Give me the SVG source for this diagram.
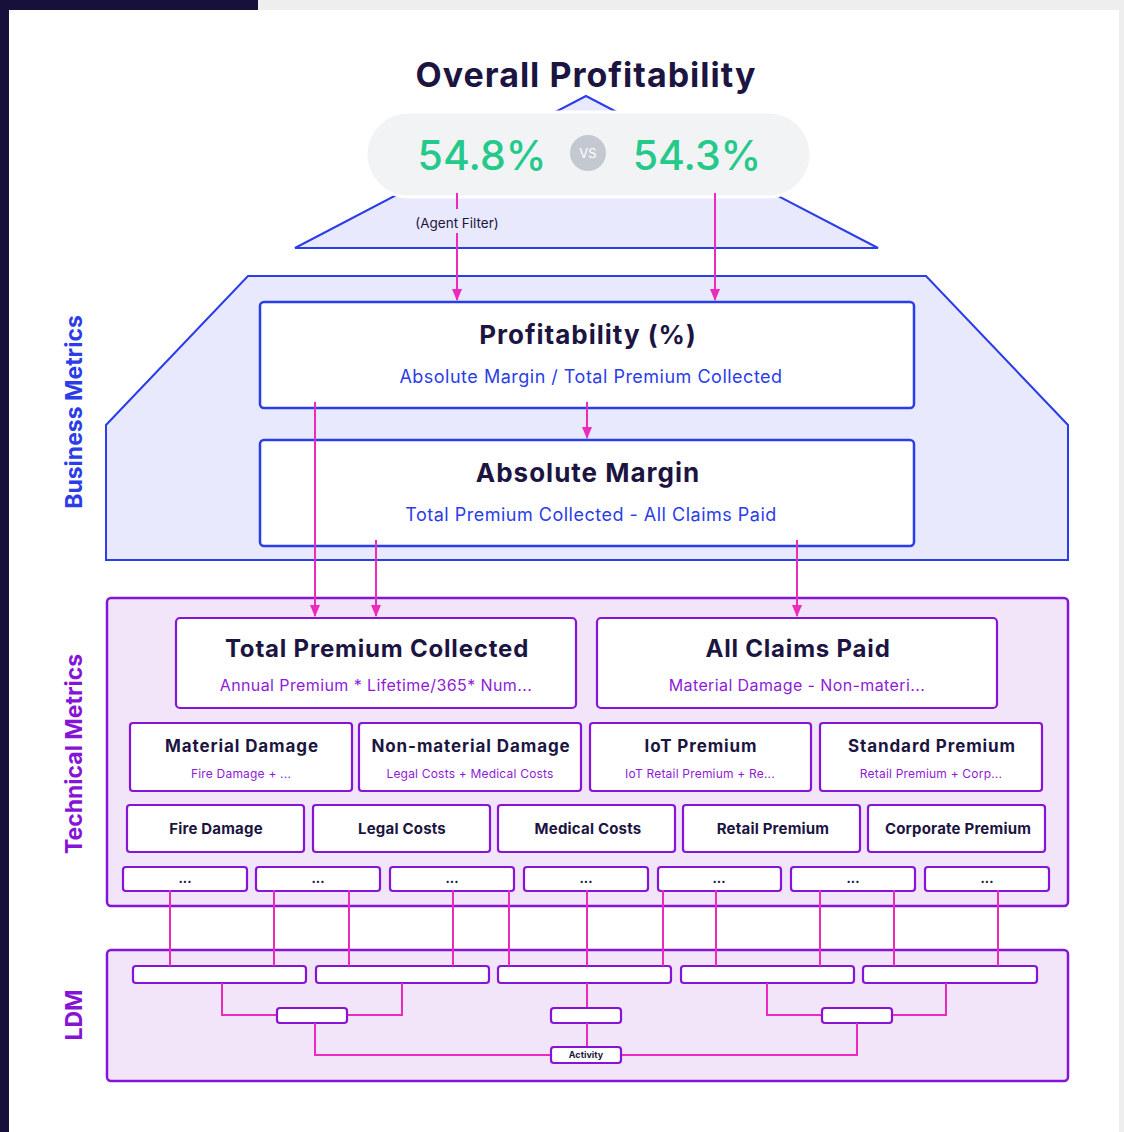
<svg xmlns="http://www.w3.org/2000/svg" width="1124" height="1132" viewBox="0 0 1124 1132">
<defs>
<marker id="arr" viewBox="0 0 12 10" refX="11" refY="5" markerWidth="12" markerHeight="10" markerUnits="userSpaceOnUse" orient="auto">
<path d="M0,0 L12,5 L0,10 z" fill="#ec2bbd"/>
</marker>
<style>
text{font-family:"Inter","Open Sans","Liberation Sans",sans-serif;}
.dark{fill:#1c1541;font-weight:700;text-anchor:middle;}
.bsub{fill:#2b3de8;text-anchor:middle;font-size:18px;letter-spacing:0.5px;}
.psub{fill:#8e1bd6;text-anchor:middle;}
.bbox{fill:#fff;stroke:#2b3de8;stroke-width:2.5;}
.pbox{fill:#fff;stroke:#8614d6;stroke-width:2.2;}
.zone-b{fill:#e8e9fc;stroke:#2b3de8;stroke-width:2;}
.zone-p{fill:#f3e5f9;stroke:#8614d6;stroke-width:2.5;}
.wire{fill:none;stroke:#ec2bbd;stroke-width:2;}
.side{font-weight:700;font-size:23px;text-anchor:middle;}
.big{font-size:26px;letter-spacing:1px;}
.mid{font-size:24px;letter-spacing:0.8px;}
.sm{font-size:17px;letter-spacing:0.9px;}
.xs{font-size:15px;letter-spacing:0.2px;}
</style>
</defs>

<!-- backdrop -->
<rect x="0" y="0" width="1124" height="1132" fill="#eeeeee"/>
<rect x="0" y="0" width="258" height="10" fill="#16103a"/>
<rect x="0" y="0" width="9" height="1132" fill="#16103a"/>
<rect x="9" y="10" width="1110" height="1122" fill="#ffffff"/>

<!-- side labels -->
<text class="side" transform="translate(82,412) rotate(-90)" fill="#2b3de8">Business Metrics</text>
<text class="side" transform="translate(82,754) rotate(-90)" fill="#8614d6">Technical Metrics</text>
<text class="side" transform="translate(82,1015) rotate(-90)" fill="#8614d6">LDM</text>

<!-- zones -->
<polygon class="zone-b" points="586,96 878,248 295,248"/>
<polygon class="zone-b" points="248,276 926,276 1068,425 1068,560 106,560 106,425"/>
<rect class="zone-p" x="107" y="598" width="961" height="308" rx="4"/>
<rect class="zone-p" x="107" y="950" width="961" height="131" rx="4"/>

<!-- title -->
<g id="title">
<text class="dark" x="586" y="87" font-size="34" letter-spacing="1">Overall Profitability</text>
</g>

<!-- comparison pill -->
<g id="compare">
<rect x="366" y="112" width="445" height="85" rx="42.5" fill="#f2f3f5" stroke="#ffffff" stroke-width="3"/>
<text x="482" y="170" font-size="41" font-weight="500" fill="#25c98a" text-anchor="middle">54.8%</text>
<text x="697" y="170" font-size="41" font-weight="500" fill="#25c98a" text-anchor="middle">54.3%</text>
<circle cx="588" cy="153" r="18" fill="#c4c9d1"/>
<text x="588" y="158" font-size="13" fill="#ffffff" text-anchor="middle">VS</text>
</g>
<text x="457" y="228" font-size="13.5" fill="#1c1541" text-anchor="middle">(Agent Filter)</text>

<!-- business metrics nodes -->
<g id="profitability">
<rect class="bbox" x="260" y="302" width="654" height="106" rx="4"/>
<text class="dark big" x="588" y="344">Profitability (%)</text>
<text class="bsub" x="591" y="383">Absolute Margin / Total Premium Collected</text>
</g>
<g id="absolute-margin">
<rect class="bbox" x="260" y="440" width="654" height="106" rx="4"/>
<text class="dark big" x="588" y="482">Absolute Margin</text>
<text class="bsub" x="591" y="521">Total Premium Collected - All Claims Paid</text>
</g>

<!-- technical metrics nodes -->
<g id="total-premium">
<rect class="pbox" x="176" y="618" width="400" height="90" rx="4"/>
<text class="dark mid" x="377" y="657">Total Premium Collected</text>
<text class="psub" x="376" y="691" font-size="16" letter-spacing="0.4">Annual Premium * Lifetime/365* Num...</text>
</g>
<g id="all-claims">
<rect class="pbox" x="597" y="618" width="400" height="90" rx="4"/>
<text class="dark mid" x="798" y="657">All Claims Paid</text>
<text class="psub" x="797" y="691" font-size="16" letter-spacing="0.4">Material Damage - Non-materi...</text>
</g>

<g id="material-damage">
<rect class="pbox" x="130" y="723" width="222" height="68" rx="3"/>
<text class="dark sm" x="242" y="752">Material Damage</text>
<text class="psub" x="241" y="778" font-size="12" letter-spacing="0.2">Fire Damage + ...</text>
</g>
<g id="non-material-damage">
<rect class="pbox" x="359" y="723" width="222" height="68" rx="3"/>
<text class="dark sm" x="471" y="752">Non-material Damage</text>
<text class="psub" x="470" y="778" font-size="12" letter-spacing="0.2">Legal Costs + Medical Costs</text>
</g>
<g id="iot-premium">
<rect class="pbox" x="590" y="723" width="221" height="68" rx="3"/>
<text class="dark sm" x="701" y="752">IoT Premium</text>
<text class="psub" x="700" y="778" font-size="12" letter-spacing="0.2">IoT Retail Premium + Re...</text>
</g>
<g id="standard-premium">
<rect class="pbox" x="820" y="723" width="222" height="68" rx="3"/>
<text class="dark sm" x="932" y="752">Standard Premium</text>
<text class="psub" x="931" y="778" font-size="12" letter-spacing="0.2">Retail Premium + Corp...</text>
</g>

<g id="fire-damage">
<rect class="pbox" x="127" y="805" width="177" height="47" rx="3"/>
<text class="dark xs" x="216" y="834">Fire Damage</text>
</g>
<g id="legal-costs">
<rect class="pbox" x="313" y="805" width="177" height="47" rx="3"/>
<text class="dark xs" x="402" y="834">Legal Costs</text>
</g>
<g id="medical-costs">
<rect class="pbox" x="498" y="805" width="177" height="47" rx="3"/>
<text class="dark xs" x="588" y="834">Medical Costs</text>
</g>
<g id="retail-premium">
<rect class="pbox" x="683" y="805" width="177" height="47" rx="3"/>
<text class="dark xs" x="773" y="834">Retail Premium</text>
</g>
<g id="corporate-premium">
<rect class="pbox" x="868" y="805" width="177" height="47" rx="3"/>
<text class="dark xs" x="958" y="834">Corporate Premium</text>
</g>

<g id="more-1"><rect class="pbox" x="123" y="867" width="124" height="24" rx="3"/><text class="dark" x="185" y="883" font-size="13">...</text></g>
<g id="more-2"><rect class="pbox" x="256" y="867" width="124" height="24" rx="3"/><text class="dark" x="318" y="883" font-size="13">...</text></g>
<g id="more-3"><rect class="pbox" x="390" y="867" width="124" height="24" rx="3"/><text class="dark" x="452" y="883" font-size="13">...</text></g>
<g id="more-4"><rect class="pbox" x="524" y="867" width="124" height="24" rx="3"/><text class="dark" x="586" y="883" font-size="13">...</text></g>
<g id="more-5"><rect class="pbox" x="658" y="867" width="123" height="24" rx="3"/><text class="dark" x="719" y="883" font-size="13">...</text></g>
<g id="more-6"><rect class="pbox" x="791" y="867" width="124" height="24" rx="3"/><text class="dark" x="853" y="883" font-size="13">...</text></g>
<g id="more-7"><rect class="pbox" x="925" y="867" width="124" height="24" rx="3"/><text class="dark" x="987" y="883" font-size="13">...</text></g>

<!-- LDM nodes -->
<g id="ldm-1"><rect class="pbox" x="133" y="966" width="173" height="17" rx="3"/></g>
<g id="ldm-2"><rect class="pbox" x="316" y="966" width="173" height="17" rx="3"/></g>
<g id="ldm-3"><rect class="pbox" x="498" y="966" width="173" height="17" rx="3"/></g>
<g id="ldm-4"><rect class="pbox" x="681" y="966" width="173" height="17" rx="3"/></g>
<g id="ldm-5"><rect class="pbox" x="863" y="966" width="174" height="17" rx="3"/></g>
<g id="ldm-6"><rect class="pbox" x="277" y="1008" width="70" height="15" rx="3"/></g>
<g id="ldm-7"><rect class="pbox" x="551" y="1008" width="70" height="15" rx="3"/></g>
<g id="ldm-8"><rect class="pbox" x="822" y="1008" width="70" height="15" rx="3"/></g>
<g id="activity"><rect class="pbox" x="551" y="1047" width="70" height="16" rx="3"/><text class="dark" x="586" y="1058" font-size="9">Activity</text></g>

<!-- connectors (drawn over the nodes, as in the reference) -->
<g id="connectors">
<line class="wire" x1="457" y1="193" x2="457" y2="209"/>
<line class="wire" x1="457" y1="233" x2="457" y2="300" marker-end="url(#arr)"/>
<line class="wire" x1="715" y1="193" x2="715" y2="300" marker-end="url(#arr)"/>
<line class="wire" x1="587" y1="402" x2="587" y2="438" marker-end="url(#arr)"/>
<line class="wire" x1="315" y1="402" x2="315" y2="616" marker-end="url(#arr)"/>
<line class="wire" x1="376" y1="540" x2="376" y2="616" marker-end="url(#arr)"/>
<line class="wire" x1="797" y1="540" x2="797" y2="616" marker-end="url(#arr)"/>
<path class="wire" d="M170,890V966 M274,890V966 M349,890V966 M453,890V966 M509,890V966 M587,890V966 M663,890V966 M716,890V966 M820,890V966 M894,890V966 M998,890V966"/>
<path class="wire" d="M222,983V1015H276 M402,983V1015H348 M587,983V1007 M767,983V1015H821 M946,983V1015H893 M587,1023V1046 M315,1023V1055H550 M857,1023V1055H622"/>
</g>
</svg>
